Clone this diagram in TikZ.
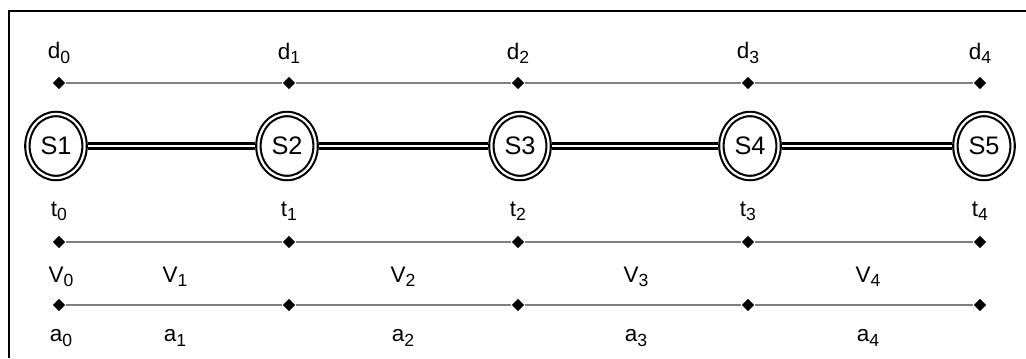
\documentclass[tikz,border=0pt]{standalone}
\usepackage{fontspec}
\setmainfont{Liberation Sans}
\usetikzlibrary{positioning,shapes.geometric}
\newcommand{\idx}[1]{\raisebox{-0.35ex}{\fontsize{12.5}{13}\selectfont #1}}

\begin{document}
\begin{tikzpicture}[x=0.025cm,y=-0.025cm,
  every node/.style={font=\fontsize{16}{18}\selectfont},
  state/.style={ellipse,draw,double,line width=1.5pt,double distance=1.6pt,
    minimum width=1.43cm,minimum height=1.6cm,inner sep=0pt,outer sep=2.3pt,
    font=\fontsize{18}{20}\selectfont},
  dot/.style={diamond,fill=black,inner sep=0pt,minimum size=9pt},
  rule/.style={draw=gray,line width=0.8pt},
  rail/.style={double,line width=1.6pt,double distance=2pt}
]
  \useasboundingbox (0,0) rectangle (1026,358);
  \draw[line width=1.3pt] (9,358) -- (9,11) -- (1026,11);

  % states and the time marks
  \foreach \x/\s [count=\i from 0] in {59/56,289/287,518/520,748/750,980/984}{
    \node (dl\i) at (\x,53) {d\idx{\i}};
    \node[dot] (d\i) at (\x,83) {};
    \node[state] (S\i) at (\s,146) {S\the\numexpr\i+1\relax};
    \node (tl\i) at (\x,211) {t\idx{\i}};
    \node[dot] (t\i) at (\x,242) {};
    \node[dot] (a\i) at (\x,305) {};
  }
  \foreach \i/\j in {0/1,1/2,2/3,3/4}{
    \draw[rule] (d\i) -- (d\j);
    \draw[rule] (t\i) -- (t\j);
    \draw[rule] (a\i) -- (a\j);
    \draw[rail] (S\i) -- (S\j);
  }

  % speeds and accelerations
  \node (V0) at (61,277) {V\idx{0}};
  \node (al0) at (61,338) {a\idx{0}};
  \foreach \x [count=\i] in {175,403,636,868}{
    \node (V\i) at (\x,277) {V\idx{\i}};
    \node (al\i) at (\x,338) {a\idx{\i}};
  }
\end{tikzpicture}
\end{document}
